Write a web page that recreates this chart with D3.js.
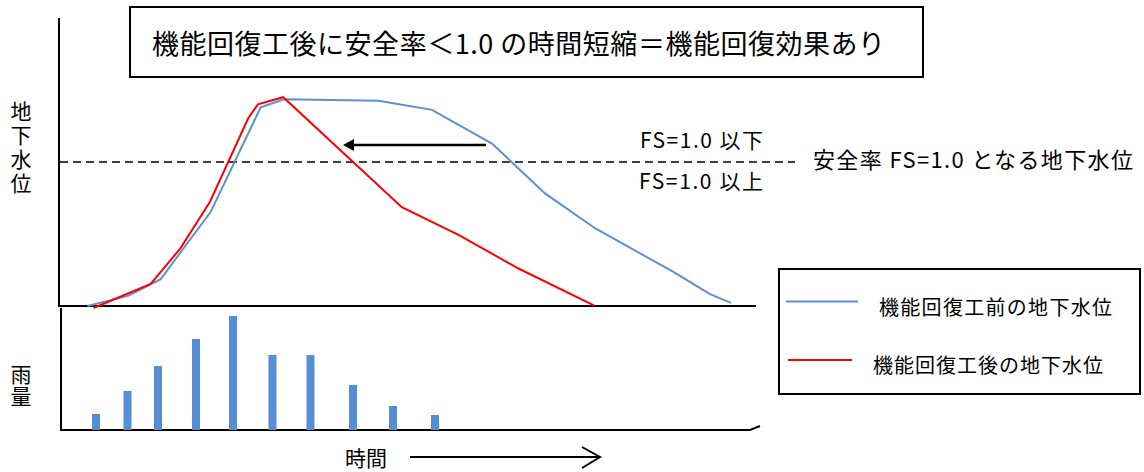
<!DOCTYPE html>
<html>
<head>
<meta charset="utf-8">
<script src="https://cdn.jsdelivr.net/npm/d3@7"></script>
<style>
  html, body { margin: 0; padding: 0; background: #fff; }
  svg { display: block; font-family: "Noto Sans CJK JP", "Noto Sans", sans-serif; }
</style>
</head>
<body>
<svg id="chart" width="1144" height="472"></svg>
<script>
// ---- data ----
const beforeTime  = [3.25, 7.36, 10.57, 12.36, 15.57, 20.57, 22.9, 32.36, 37.7, 43.7, 49.0, 54.0, 61.8, 65.5, 67.6];
const beforeLevel = [0, 0.36, 0.93, 1.77, 3.27, 6.9, 7.18, 7.13, 6.81, 5.64, 3.91, 2.70, 1.19, 0.41, 0.11];
const afterTime   = [3.86, 9.57, 12.54, 15.5, 19.32, 20.29, 22.82, 34.68, 40.35, 46.3, 53.93];
const afterLevel  = [-0.07, 0.77, 2.0, 3.62, 6.52, 7.0, 7.25, 3.43, 2.47, 1.31, 0.01];
const rainTime    = [4.1, 7.25, 10.3, 14.1, 17.8, 21.75, 25.55, 29.8, 33.8, 38.0];
const rainValue   = [1.6, 3.9, 6.4, 9.1, 11.4, 7.5, 7.5, 4.5, 2.4, 1.5];
const fsLevel = 5.0;
const shortenFrom = 43.1, shortenTo = 28.8, shortenLevel = 5.59;
const titleText = "機能回復工後に安全率＜1.0 の時間短縮＝機能回復効果あり";
const seriesNames = ["機能回復工前の地下水位", "機能回復工後の地下水位"];
const seriesColors = ["#5b8fd6", "#ff0000"];

// ---- scales ----
const svg = d3.select("#chart");
const x = d3.scaleLinear().domain([0, 70]).range([55, 755]);
const y = d3.scaleLinear().domain([0, 10]).range([306, 18]);
const rainY = d3.scaleLinear().domain([0, 12]).range([430, 310]);

// title box
svg.append("rect").attr("x", 130).attr("y", 7).attr("width", 793).attr("height", 70)
  .attr("fill", "#fff").attr("stroke", "#000").attr("stroke-width", 2);
svg.append("text").attr("x", 152).attr("y", 42).attr("dominant-baseline", "central")
  .attr("font-size", 27).attr("textLength", 733).attr("lengthAdjust", "spacing")
  .attr("fill", "#000").text(titleText);

// upper axes
svg.append("line").attr("x1", 59).attr("x2", 59).attr("y1", y(10)).attr("y2", y(0))
  .attr("stroke", "#000").attr("stroke-width", 2);
svg.append("line").attr("x1", 58).attr("x2", 756).attr("y1", y(0)).attr("y2", y(0))
  .attr("stroke", "#000").attr("stroke-width", 2);

// FS dashed line
svg.append("line").attr("x1", 60).attr("x2", 795).attr("y1", y(fsLevel)).attr("y2", y(fsLevel))
  .attr("stroke", "#000").attr("stroke-width", 1.5).attr("stroke-dasharray", "8,5");

// lines
const line = d3.line().x(d => x(d[0])).y(d => y(d[1]));
const beforeData = beforeTime.map((t, i) => [t, beforeLevel[i]]);
const afterData = afterTime.map((t, i) => [t, afterLevel[i]]);
svg.append("path").datum(beforeData).attr("d", line)
  .attr("fill", "none").attr("stroke", seriesColors[0]).attr("stroke-width", 2);
svg.append("path").datum(afterData).attr("d", line)
  .attr("fill", "none").attr("stroke", seriesColors[1]).attr("stroke-width", 2);

// shortening arrow
const ay = y(shortenLevel);
svg.append("line").attr("x1", x(shortenFrom)).attr("x2", x(shortenTo) + 9).attr("y1", ay).attr("y2", ay)
  .attr("stroke", "#000").attr("stroke-width", 2.5);
svg.append("path").attr("d", `M${x(shortenTo)},${ay} l11,-6 l0,12 z`).attr("fill", "#000");

// FS labels
svg.append("text").attr("x", 640).attr("y", 139).attr("dominant-baseline", "central")
  .attr("font-size", 21).attr("textLength", 123).attr("lengthAdjust", "spacing").text("FS=1.0 以下");
svg.append("text").attr("x", 639).attr("y", 180).attr("dominant-baseline", "central")
  .attr("font-size", 21).attr("textLength", 124).attr("lengthAdjust", "spacing").text("FS=1.0 以上");
svg.append("text").attr("x", 813).attr("y", 158).attr("dominant-baseline", "central")
  .attr("font-size", 22).attr("textLength", 320).attr("lengthAdjust", "spacing").text("安全率 FS=1.0 となる地下水位");

// vertical label 地下水位
svg.append("text").attr("x", 21).attr("y", 101)
  .style("writing-mode", "vertical-rl").style("letter-spacing", "3px")
  .attr("font-size", 21).attr("fill", "#000").text("地下水位");

// lower chart axes
svg.append("line").attr("x1", 61).attr("x2", 61).attr("y1", 308).attr("y2", rainY(0))
  .attr("stroke", "#000").attr("stroke-width", 2);
svg.append("path").attr("d", `M60,${rainY(0)} L750,${rainY(0)} L760,426`)
  .attr("fill", "none").attr("stroke", "#000").attr("stroke-width", 2);

// rain bars
svg.selectAll("rect.rain").data(rainTime.map((t, i) => [t, rainValue[i]])).enter()
  .append("rect").attr("class", "rain")
  .attr("x", d => x(d[0]) - 4).attr("width", 8)
  .attr("y", d => rainY(d[1])).attr("height", d => rainY(0) - rainY(d[1]))
  .attr("fill", "#558ed5");

// 雨量
svg.append("text").attr("x", 21).attr("y", 364)
  .style("writing-mode", "vertical-rl").style("letter-spacing", "1px")
  .attr("font-size", 21).attr("fill", "#000").text("雨量");

// 時間 + arrow
svg.append("text").attr("x", 345).attr("y", 457).attr("dominant-baseline", "central")
  .attr("font-size", 21).text("時間");
svg.append("line").attr("x1", 410).attr("x2", 599).attr("y1", 457).attr("y2", 457)
  .attr("stroke", "#000").attr("stroke-width", 2);
svg.append("path").attr("d", "M582,447 L600,457 L582,468").attr("fill", "none")
  .attr("stroke", "#000").attr("stroke-width", 2);

// legend
svg.append("rect").attr("x", 779).attr("y", 269).attr("width", 361).attr("height", 125)
  .attr("fill", "#fff").attr("stroke", "#000").attr("stroke-width", 2);
const legendRows = [
  {lx1: 786, lx2: 858, ly: 301.5, tx: 879, ty: 306, tw: 233},
  {lx1: 788, lx2: 852, ly: 360, tx: 873, ty: 364, tw: 230}
];
legendRows.forEach((r, i) => {
  svg.append("line").attr("x1", r.lx1).attr("x2", r.lx2).attr("y1", r.ly).attr("y2", r.ly)
    .attr("stroke", seriesColors[i]).attr("stroke-width", 2);
  svg.append("text").attr("x", r.tx).attr("y", r.ty).attr("dominant-baseline", "central")
    .attr("font-size", 20).attr("textLength", r.tw).attr("lengthAdjust", "spacing").text(seriesNames[i]);
});
</script>
</body>
</html>
